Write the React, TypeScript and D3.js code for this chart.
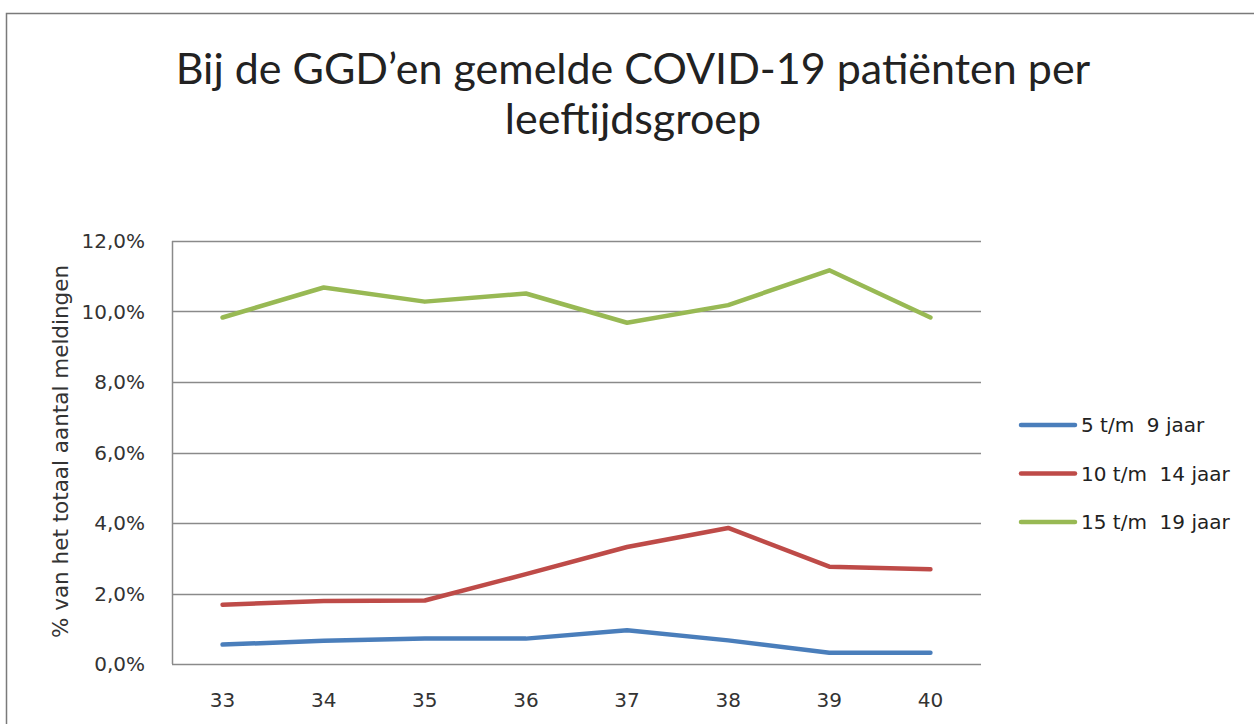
import React, { useEffect, useRef } from "react";
import * as d3 from "d3";

const weeks = ["33", "34", "35", "36", "37", "38", "39", "40"];
const ageGroups = ["5 t/m  9 jaar", "10 t/m  14 jaar", "15 t/m  19 jaar"];
const young = [0.55, 0.66, 0.72, 0.72, 0.96, 0.67, 0.32, 0.32];
const middle = [1.68, 1.79, 1.8, 2.55, 3.32, 3.86, 2.76, 2.69];
const teens = [9.83, 10.68, 10.28, 10.51, 9.68, 10.18, 11.17, 9.83];
const yTicks = [0, 2, 4, 6, 8, 10, 12];
const colors = ["#4a7ebb", "#be4b48", "#98b954"];

const W = 1254;
const H = 724;

export default function App() {
  const ref = useRef<SVGSVGElement>(null);

  useEffect(() => {
    const svg = d3.select(ref.current);
    svg.selectAll("*").remove();

    const margin = { top: 241, right: 273, bottom: 60, left: 172 };
    const w = W - margin.left - margin.right;
    const h = 664 - margin.top;
    const titleFont = "Lato, 'Open Sans', sans-serif";
    const font = "'DejaVu Sans', Verdana, sans-serif";

    // outer frame
    svg
      .append("rect")
      .attr("x", 6.5)
      .attr("y", 13.5)
      .attr("width", W + 10)
      .attr("height", H)
      .attr("fill", "white")
      .attr("stroke", "#7a7a7a")
      .attr("stroke-width", 1.5);

    svg
      .append("text")
      .attr("x", 633)
      .attr("y", 84)
      .attr("text-anchor", "middle")
      .style("font-family", titleFont)
      .style("font-size", "43px")
      .attr("fill", "#222")
      .text("Bij de GGD’en gemelde COVID-19 patiënten per");
    svg
      .append("text")
      .attr("x", 633)
      .attr("y", 134)
      .attr("text-anchor", "middle")
      .style("font-family", titleFont)
      .style("font-size", "43px")
      .attr("fill", "#222")
      .text("leeftijdsgroep");

    const g = svg.append("g").attr("transform", `translate(${margin.left},${margin.top})`);

    const x = d3.scaleBand().domain(weeks).range([0, w]);
    const y = d3.scaleLinear().domain([0, 12]).range([h, 0]);

    g.selectAll(".grid")
      .data(yTicks)
      .join("line")
      .attr("class", "grid")
      .attr("x1", 0)
      .attr("x2", w)
      .attr("y1", (d) => Math.round(y(d)) + 0.5)
      .attr("y2", (d) => Math.round(y(d)) + 0.5)
      .attr("stroke", "#8a8a8a")
      .attr("stroke-width", 1.5);

    g.append("line")
      .attr("x1", 0.5)
      .attr("x2", 0.5)
      .attr("y1", y(12))
      .attr("y2", y(0))
      .attr("stroke", "#8a8a8a")
      .attr("stroke-width", 1.5);

    g.selectAll(".ytick")
      .data(yTicks)
      .join("text")
      .attr("class", "ytick")
      .attr("x", -27)
      .attr("y", (d) => y(d))
      .attr("dy", "0.35em")
      .attr("text-anchor", "end")
      .style("font-family", font)
      .style("font-size", "20px")
      .attr("fill", "#333")
      .text((d) => d.toFixed(1).replace(".", ",") + "%");

    g.selectAll(".xtick")
      .data(weeks)
      .join("text")
      .attr("class", "xtick")
      .attr("x", (d) => x(d)! + x.bandwidth() / 2)
      .attr("y", h + 43)
      .attr("text-anchor", "middle")
      .style("font-family", font)
      .style("font-size", "20px")
      .attr("fill", "#333")
      .text((d) => d);

    g.append("text")
      .attr("transform", `translate(-104,${h / 2 - 1}) rotate(-90)`)
      .attr("text-anchor", "middle")
      .style("font-family", font)
      .style("font-size", "21.5px")
      .attr("fill", "#333")
      .text("% van het totaal aantal meldingen");

    const line = d3
      .line<number>()
      .x((d, i) => x(weeks[i])! + x.bandwidth() / 2)
      .y((d) => y(d));

    [young, middle, teens].forEach((series, i) => {
      g.append("path")
        .datum(series)
        .attr("d", line)
        .attr("fill", "none")
        .attr("stroke", colors[i])
        .attr("stroke-width", 4.5)
        .attr("stroke-linejoin", "round")
        .attr("stroke-linecap", "round");
    });

    const legend = svg.append("g").attr("transform", "translate(1021,425)");
    legend
      .selectAll(".leg")
      .data(ageGroups)
      .join("g")
      .attr("class", "leg")
      .attr("transform", (d, i) => `translate(0,${i * 48.5})`)
      .each(function (d, i) {
        const item = d3.select(this);
        item
          .append("line")
          .attr("x1", 0)
          .attr("x2", 54)
          .attr("stroke", colors[i])
          .attr("stroke-width", 4.5)
          .attr("stroke-linecap", "round");
        item
          .append("text")
          .attr("x", 60)
          .attr("dy", "0.35em")
          .style("font-family", font)
          .style("font-size", "20px")
          .style("white-space", "pre")
          .attr("fill", "#222")
          .text(d);
      });
  }, []);

  return (
    <svg
      ref={ref}
      width={W}
      height={H}
      style={{ position: "absolute", left: 0, top: 0, background: "white" }}
    />
  );
}
